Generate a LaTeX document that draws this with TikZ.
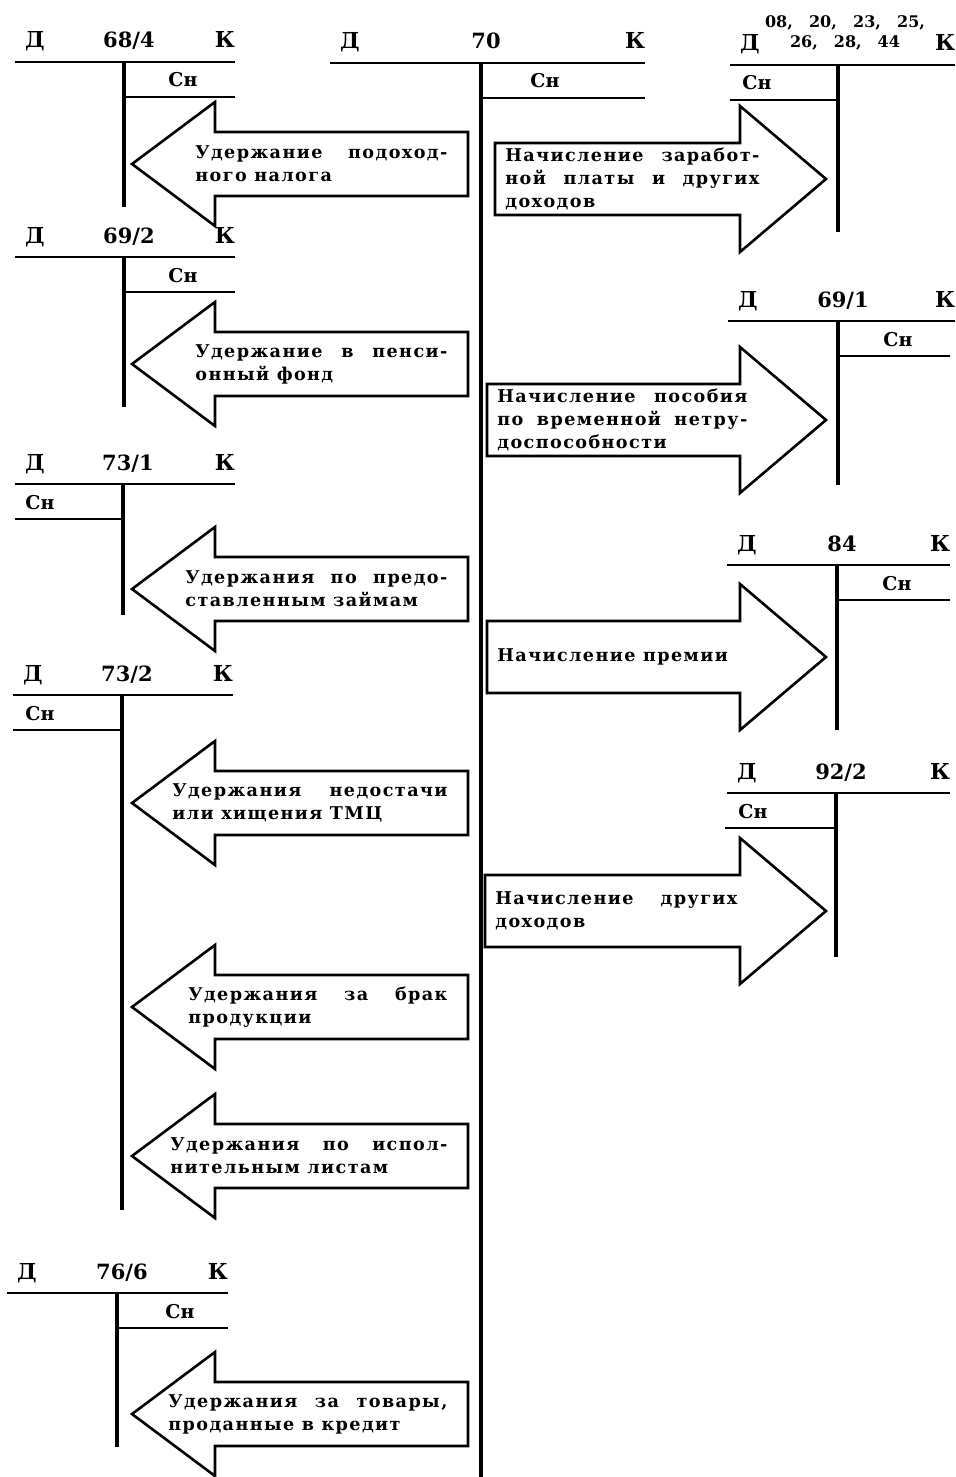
\documentclass[tikz,border=0pt]{standalone}
\usepackage{fontspec}
\setmainfont{DejaVu Serif}
\newfontfamily\boxfont{DejaVu Serif}[LetterSpace=8]
\newcommand{\jline}[2]{\makebox[#1][s]{#2}}

\begin{document}
\begin{tikzpicture}[x=0.5pt, y=-0.5pt,
    hline/.style={line width=1pt},
    vline/.style={line width=1.6pt},
    bigarrow/.style={line width=1.3pt, line join=miter},
    dk/.style={font=\bfseries\fontsize{11}{13}\selectfont, anchor=base, inner sep=0pt},
    accnum/.style={font=\bfseries\fontsize{10.5}{12}\selectfont, anchor=base, inner sep=0pt},
    saldo/.style={font=\bfseries\fontsize{9.5}{11}\selectfont, anchor=base, inner sep=0pt},
    optext/.style={font=\boxfont\bfseries\fontsize{8.8}{11.5}\selectfont, align=left, anchor=west, inner sep=0pt}]
  \useasboundingbox (0,0) rectangle (955,1477);
  % T-accounts: name/left/stem/right/top/bottom/Cn from/Cn to/Cn x/number
  \foreach \n/\xl/\xm/\xr/\yt/\yb/\sa/\sb/\sx/\ttl in {
      a/15/124/235/62/207/124/235/183/{68/4},
      b/15/124/235/257/407/124/235/183/{69/2},
      c/15/123/235/484/615/15/123/40/{73/1},
      d/13/122/233/695/1210/13/122/40/{73/2},
      e/7/117/228/1293/1447/117/228/180/{76/6},
      f/330/481/645/63/1477/481/645/545/70,
      g/730/838/955/65/232/730/838/757/{},
      h/728/838/955/321/485/838/950/898/{69/1},
      i/727/837/950/565/730/837/950/897/84,
      j/727/836/950/793/957/725/836/753/{92/2}}{
    \draw[hline] (\xl,\yt) -- (\xr,\yt);
    \draw[vline] (\xm,\yt) -- (\xm,\yb);
    \draw[hline] (\sa,\yt+35) -- (\sb,\yt+35);
    \node[dk] (d\n) at (\xl+20,\yt-14) {Д};
    \node[dk] (k\n) at (\xr-10,\yt-14) {К};
    \node[accnum] (t\n) at (\xm+5,\yt-14) {\ttl};
    \node[saldo] (s\n) at (\sx,\yt+25) {Сн};
  }
  \node[font=\bfseries\fontsize{8}{10}\selectfont, align=center, inner sep=0pt] (tg)
    at (845,33) {\jline{80pt}{08, 20, 23, 25,}\\\jline{55pt}{26, 28, 44}};
  % withholdings, pointing left
  \foreach \n/\y/\x/\la/\lb [evaluate=\x as \tw using (447-\x)/2] in {
      1/164/195/{Удержание подоход-}/{ного налога},
      2/364/195/{Удержание в пенси-}/{онный фонд},
      3/589/185/{Удержания по предо-}/{ставленным займам},
      4/803/172/{Удержания недостачи}/{или хищения ТМЦ},
      5/1007/188/{Удержания за брак}/{продукции},
      6/1156/170/{Удержания по испол-}/{нительным листам},
      7/1414/168/{Удержания за товары,}/{проданные в кредит}}{
    \draw[bigarrow] (132,\y) -- (215,\y-62) -- (215,\y-32) -- (468,\y-32)
      -- (468,\y+32) -- (215,\y+32) -- (215,\y+62) -- cycle;
    \node[optext] (w\n) at (\x,\y) {\jline{\tw pt}{\la}\\\lb};
  }
  % accruals, pointing right
  \foreach \n/\y/\x/\txt in {
      1/179/505/{\jline{127pt}{Начисление заработ-}\\\jline{127pt}{ной платы и других}\\доходов},
      2/420/497/{\jline{125pt}{Начисление пособия}\\\jline{125pt}{по временной нетру-}\\доспособности},
      3/657/497/{Начисление премии},
      4/911/495/{\jline{121pt}{Начисление других}\\доходов}}{
    \draw[bigarrow] (\x-10,\y-36) -- (740,\y-36) -- (740,\y-73) -- (826,\y)
      -- (740,\y+73) -- (740,\y+36) -- (\x-10,\y+36) -- cycle;
    \node[optext] (n\n) at (\x,\y) {\txt};
  }
\end{tikzpicture}
\end{document}
